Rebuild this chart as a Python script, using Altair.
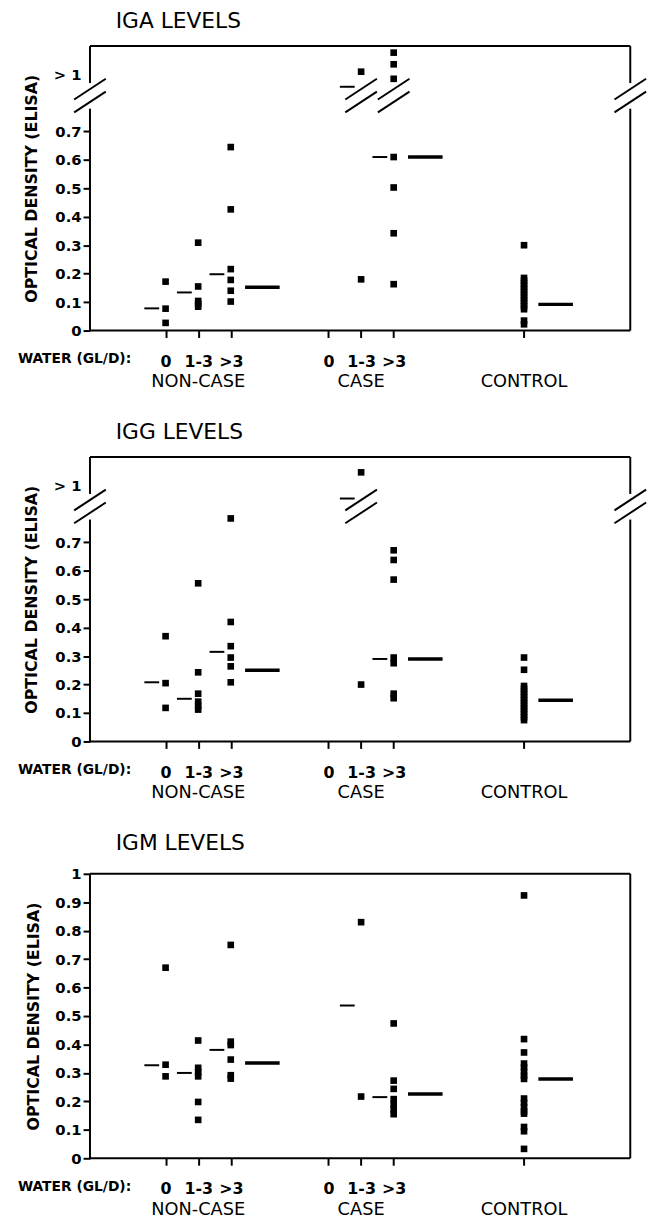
import altair as alt
import pandas as pd

FONT = "DejaVu Sans"
W, H = 547, 288
X_DOMAIN = [-1.32, 15.26]
BREAK_Y = 0.826          # where the axis is broken (values above are "> 1")
GAP = [0.78, 0.87]       # frame gap around the break

# ---- x layout: seven water-consumption columns ----
col_keys = ["nc_0", "nc_13", "nc_gt3", "c_0", "c_13", "c_gt3", "ctrl"]
col_pos = [1, 2, 3, 6, 7, 8, 12]
tick_labels = ["0", "1-3", ">3", "0", "1-3", ">3", ""]
group_names = ["NON-CASE", "CASE", "CONTROL"]
group_center_pos = [2, 7, 12]
group_last_pos = [3, 8, 12]

# ---- IGA (values above the break are positions in the "> 1" band) ----
iga_nc_0 = [0.172, 0.077, 0.027]
iga_nc_13 = [0.309, 0.155, 0.104, 0.094, 0.084]
iga_nc_gt3 = [0.645, 0.426, 0.216, 0.178, 0.140, 0.102]
iga_c_0 = []
iga_c_13 = [0.180, 0.910]
iga_c_gt3 = [0.610, 0.503, 0.342, 0.163, 0.977, 0.936, 0.885]
iga_ctrl = [0.300, 0.185, 0.175, 0.165, 0.155, 0.145, 0.135, 0.125, 0.115,
            0.105, 0.095, 0.085, 0.075, 0.035, 0.022]
iga_group_means = [0.078, 0.134, 0.198, None, 0.857, 0.610, None]
iga_overall = [0.152, 0.610, 0.092]
iga_break_cols = [7, 8]

# ---- IGG ----
igg_nc_0 = [0.370, 0.205, 0.118]
igg_nc_13 = [0.556, 0.243, 0.168, 0.140, 0.125, 0.112]
igg_nc_gt3 = [0.784, 0.420, 0.335, 0.295, 0.264, 0.208]
igg_c_0 = []
igg_c_13 = [0.200, 0.946]
igg_c_gt3 = [0.672, 0.638, 0.569, 0.295, 0.275, 0.168, 0.152]
igg_ctrl = [0.295, 0.252, 0.195, 0.185, 0.175, 0.165, 0.155, 0.145, 0.135,
            0.125, 0.115, 0.105, 0.095, 0.085, 0.075]
igg_group_means = [0.208, 0.150, 0.315, None, 0.854, 0.290, None]
igg_overall = [0.250, 0.290, 0.145]
igg_break_cols = [7]

# ---- IGM ----
igm_nc_0 = [0.670, 0.329, 0.288]
igm_nc_13 = [0.414, 0.318, 0.303, 0.288, 0.198, 0.135]
igm_nc_gt3 = [0.750, 0.410, 0.398, 0.347, 0.292, 0.280]
igm_c_0 = []
igm_c_13 = [0.830, 0.217]
igm_c_gt3 = [0.474, 0.273, 0.244, 0.208, 0.190, 0.172, 0.155]
igm_ctrl = [0.924, 0.419, 0.372, 0.333, 0.320, 0.305, 0.290, 0.279, 0.210,
            0.195, 0.180, 0.165, 0.157, 0.110, 0.095, 0.033]
igm_group_means = [0.327, 0.300, 0.381, None, 0.537, 0.215, None]
igm_overall = [0.335, 0.226, 0.279]
igm_break_cols = []


def ternary(vals, labels):
    expr = "''"
    for v, l in zip(reversed(vals), reversed(labels)):
        expr = f"datum.value == {v} ? '{l}' : ({expr})"
    return expr


def panel(title, columns, group_means, overall, broken, break_cols):
    pts = pd.DataFrame([{"x": p, "y": v} for p, vals in zip(col_pos, columns) for v in vals])
    gm = pd.DataFrame([{"x": p, "y": v} for p, v in zip(col_pos, group_means) if v is not None])
    om = pd.DataFrame({"x": group_last_pos, "y": overall})
    labs = pd.DataFrame({"x": group_center_pos, "label": group_names})
    dummy = pd.DataFrame({"a": [0]})

    xs = alt.Scale(domain=X_DOMAIN, nice=False, zero=False)
    ys = alt.Scale(domain=[0, 1], nice=False, zero=False)

    xaxis = alt.Axis(values=col_pos, labelExpr=ternary(col_pos, tick_labels),
                     domain=False, grid=False, ticks=True, tickSize=7, tickWidth=2,
                     tickColor="black", labelFont=FONT, labelFontWeight="bold",
                     labelFontSize=16, labelColor="black", labelPadding=16,
                     labelOverlap=False, labelAngle=0, title=None)
    if broken:
        yvals = [round(i * 0.1, 1) for i in range(8)] + [0.9]
        yexpr = "datum.value > 0.8 ? '> 1' : (datum.value == 0 ? '0' : format(datum.value, '.1f'))"
        tick_test = "datum.value > 0.85 && datum.value < 0.95"
    else:
        yvals = [round(i * 0.1, 1) for i in range(11)]
        yexpr = "datum.value == 0 ? '0' : (datum.value == 1 ? '1' : format(datum.value, '.1f'))"
        tick_test = "false"
    yaxis = alt.Axis(values=yvals, labelExpr=yexpr, domain=False, grid=False,
                     tickSize=7, tickWidth=2,
                     tickColor={"condition": {"test": tick_test, "value": "transparent"},
                                "value": "black"},
                     labelFont=FONT, labelFontWeight="bold", labelFontSize=15,
                     labelColor="black", labelPadding=2, labelOverlap=False,
                     title="OPTICAL DENSITY (ELISA)", titleFont=FONT,
                     titleFontWeight="bold", titleFontSize=16, titleColor="black",
                     titlePadding=14)

    X = alt.X("x:Q", scale=xs, axis=xaxis)
    Y = alt.Y("y:Q", scale=ys, axis=yaxis)

    def YD(v):
        return alt.Y(datum=v, scale=ys, axis=yaxis)

    layers = []
    # points
    layers.append(alt.Chart(pts).mark_square(size=45, color="black", opacity=1).encode(x=X, y=Y))
    # group mean dashes
    layers.append(alt.Chart(gm).mark_tick(orient="horizontal", size=15, thickness=2,
                                          color="black", opacity=1, xOffset=-14).encode(x=X, y=Y))
    # overall mean bars
    layers.append(alt.Chart(om).mark_tick(orient="horizontal", size=35, thickness=3.5,
                                          color="black", opacity=1, xOffset=32).encode(x=X, y=Y))

    # frame
    rule = dict(color="black", strokeWidth=2)
    layers.append(alt.Chart(dummy).mark_rule(**rule).encode(
        x=alt.value(0), x2=alt.value(W), y=alt.value(0)))
    layers.append(alt.Chart(dummy).mark_rule(**rule).encode(
        x=alt.value(0), x2=alt.value(W), y=alt.value(H)))
    segs = [(0, GAP[0]), (GAP[1], 1)] if broken else [(0, 1)]
    for xv in (0, W):
        for a, b in segs:
            layers.append(alt.Chart(dummy).mark_rule(**rule).encode(
                x=alt.value(xv), y=YD(a), y2=alt.datum(b)))

    # break slashes
    if broken:
        slash_specs = [dict(xOffset=-16, x2Offset=16, yOffset=4, y2Offset=-17),
                       dict(xOffset=-16, x2Offset=16, yOffset=17, y2Offset=-4)]
        for sp in slash_specs:
            for xv in (0, W):
                layers.append(alt.Chart(dummy).mark_rule(color="black", strokeWidth=2, **sp).encode(
                    x=alt.value(xv), x2=alt.value(xv),
                    y=YD(BREAK_Y), y2=alt.datum(BREAK_Y)))
            if break_cols:
                bdf = pd.DataFrame({"x": break_cols, "y": [BREAK_Y] * len(break_cols)})
                layers.append(alt.Chart(bdf).mark_rule(color="black", strokeWidth=2, **sp).encode(
                    x=X, x2="x:Q", y=Y, y2="y:Q"))

    # labels below the axis
    layers.append(alt.Chart(dummy).mark_text(font=FONT, fontWeight="bold", fontSize=14,
                                             align="left", baseline="middle", color="black").encode(
        x=alt.value(-73), y=alt.value(H + 29), text=alt.value("WATER (GL/D):")))
    layers.append(alt.Chart(labs).mark_text(font=FONT, fontSize=18, align="center",
                                            baseline="middle", color="black").encode(
        x=X, y=alt.value(H + 52), text="label:N"))

    return alt.layer(*layers).properties(
        width=W, height=H,
        title=alt.TitleParams(title, anchor="start", frame="group", dx=26, offset=12,
                              font=FONT, fontSize=22, fontWeight="normal", color="black"))


p1 = panel("IGA LEVELS",
           [iga_nc_0, iga_nc_13, iga_nc_gt3, iga_c_0, iga_c_13, iga_c_gt3, iga_ctrl],
           iga_group_means, iga_overall, True, iga_break_cols)
p2 = panel("IGG LEVELS",
           [igg_nc_0, igg_nc_13, igg_nc_gt3, igg_c_0, igg_c_13, igg_c_gt3, igg_ctrl],
           igg_group_means, igg_overall, True, igg_break_cols)
p3 = panel("IGM LEVELS",
           [igm_nc_0, igm_nc_13, igm_nc_gt3, igm_c_0, igm_c_13, igm_c_gt3, igm_ctrl],
           igm_group_means, igm_overall, False, igm_break_cols)

chart = alt.vconcat(p1, p2, p3, spacing=31).configure_view(stroke=None).configure_axis(
    labelOverlap=False).properties(
    padding={"left": 10, "top": -5, "right": 5, "bottom": 0})

chart.save("out.html", embed_options={"renderer": "svg", "actions": False})
